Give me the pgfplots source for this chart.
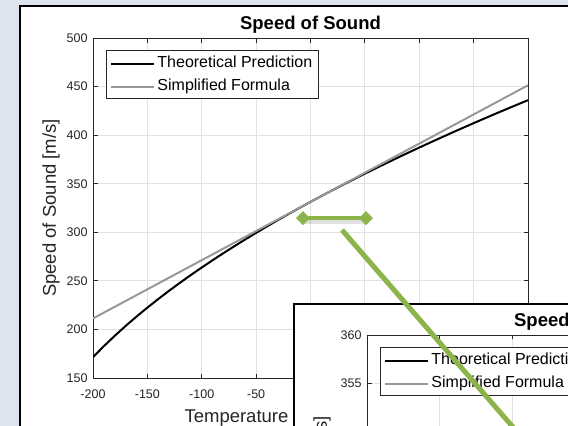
\documentclass[border=0pt]{standalone}
\usepackage{fontspec}
\setmainfont{Liberation Sans}
\usepackage{pgfplots}
\pgfplotsset{compat=1.18}
\definecolor{bgblue}{RGB}{222,228,239}
\definecolor{axgray}{RGB}{38,38,38}
\definecolor{gridc}{RGB}{225,225,225}
\definecolor{simp}{RGB}{152,152,152}
\definecolor{arrowgreen}{RGB}{140,180,75}

\pgfplotstableread{
T c
-200 171.44
-190 182.78
-180 193.46
-170 203.58
-160 213.22
-150 222.44
-140 231.30
-130 239.83
-120 248.06
-110 256.03
-100 263.76
-90 271.27
-80 278.58
-70 285.70
-60 292.65
-50 299.44
-40 306.07
-30 312.57
-20 318.93
-10 325.17
0 331.29
10 337.30
20 343.20
30 349.01
40 354.72
50 360.34
60 365.87
70 371.32
80 376.69
90 381.99
100 387.21
110 392.36
120 397.45
130 402.47
140 407.44
150 412.34
160 417.18
170 421.97
180 426.70
190 431.39
200 436.02
}\theory

\pgfplotstableread{
T c
-200 211.3
0 331.3
200 451.3
}\simplified

\pgfplotsset{matlab/.style={
  scale only axis, width=435pt, height=340pt,
  axis line style={axgray, line width=0.8pt},
  tick style={axgray, line width=0.8pt},
  major tick length=4.5pt,
  tick align=inside,
  xmajorgrids, ymajorgrids,
  grid style={gridc, line width=0.8pt},
  ticklabel style={font=\fontsize{12.5}{14}\selectfont, text=axgray},
  xticklabel style={yshift=-8pt},
  yticklabel style={xshift=-2pt},
  label style={font=\fontsize{18.5}{22}\selectfont, text=axgray},
  title style={font=\fontsize{18.5}{22}\selectfont\bfseries, text=black, at={(0.5,1.0206)}, anchor=center},
  xlabel style={at={(0.5,-0.1165)}, anchor=center},
  ylabel style={at={(-0.0966,0.5)}, anchor=center},
  legend style={font=\fontsize{16}{19}\selectfont, draw=axgray, line width=0.8pt,
     at={(0.0300,0.9640)}, anchor=north west, inner xsep=4pt, inner ysep=2.5pt,
     row sep=3pt, column sep=0pt, nodes={inner sep=2pt, text height=12pt, text depth=4pt}},
  legend cell align=left,
  legend image code/.code={\draw[#1] (0pt,-1pt) -- (43pt,-1pt);},
  title={Speed of Sound},
  xlabel={Temperature [degrees Celsius]},
  ylabel={Speed of Sound [m/s]},
}}

\begin{document}
\begin{tikzpicture}
\path[use as bounding box] (0pt,0pt) rectangle (568pt,-426pt);
\begin{scope}
\clip (0pt,0pt) rectangle (568pt,-426pt);
\fill[bgblue] (0pt,0pt) rectangle (568pt,-426pt);
% main figure window
\fill[white] (19pt,-5pt) rectangle (900pt,-900pt);
\draw[black, line width=1.6pt] (19.8pt,-900pt) -- (19.8pt,-5.8pt) -- (900pt,-5.8pt);

\begin{axis}[matlab, at={(93pt,-378pt)}, anchor=south west,
  xmin=-200, xmax=200, ymin=150, ymax=500,
  xtick={-200,-150,-100,-50,0,50,100,150,200},
  xticklabels={-200,-150,-100,-50,0,50,100,150,200},
  ytick={150,200,250,300,350,400,450,500},
  yticklabels={150,200,250,300,350,400,450,500}]
\addplot[black, line width=2pt] table[x=T,y=c] {\theory};
\addlegendentry{Theoretical Prediction}
\addplot[simp, line width=2pt] table[x=T,y=c] {\simplified};
\addlegendentry{Simplified Formula}
\end{axis}

% inset figure window
\fill[white] (293pt,-303pt) rectangle (900pt,-900pt);
\draw[black, line width=1.6pt] (293.8pt,-900pt) -- (293.8pt,-303.8pt) -- (900pt,-303.8pt);

\begin{axis}[matlab, at={(367pt,-335pt)}, anchor=north west,
  ylabel style={at={(-0.103,0.5)}},
  xmin=-10, xmax=50, ymin=325, ymax=360,
  xtick={-10,0,10,20,30,40,50},
  xticklabels={-10,0,10,20,30,40,50},
  ytick={325,330,335,340,345,350,355,360},
  yticklabels={325,330,335,340,345,350,355,360}]
\addplot[black, line width=2pt] table[x=T,y=c] {\theory};
\addlegendentry{Theoretical Prediction}
\addplot[simp, line width=2pt] table[x=T,y=c] {\simplified};
\addlegendentry{Simplified Formula}
\end{axis}

% green annotation
\begin{scope}[x=1pt,y=-1pt]
\draw[black, opacity=0.12, line width=6pt] (304,221) -- (368,221);
\draw[arrowgreen, line width=4.5pt] (303,218) -- (366,218);
\fill[arrowgreen] (296,218) -- (303,211) -- (310,218) -- (303,225) -- cycle;
\fill[arrowgreen] (359,218) -- (366,211) -- (373,218) -- (366,225) -- cycle;
\draw[arrowgreen, line width=5pt] (342,230) -- (525,441);
\end{scope}
\end{scope}
\end{tikzpicture}
\end{document}
